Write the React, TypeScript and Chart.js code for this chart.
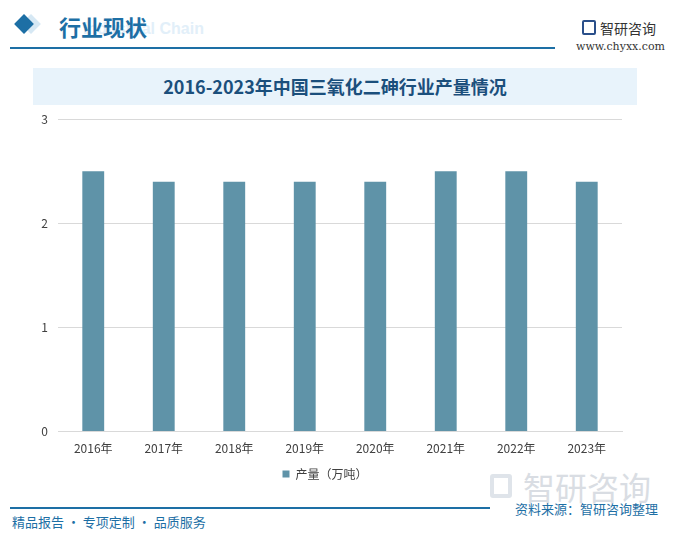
import React, { useEffect, useRef } from "react";
import { Chart, registerables } from "chart.js";

Chart.register(...registerables);

const categories = ["2016年", "2017年", "2018年", "2019年", "2020年", "2021年", "2022年", "2023年"];
const production = [2.5, 2.4, 2.4, 2.4, 2.4, 2.5, 2.5, 2.4];
const yTicks = [0, 1, 2, 3];
const seriesLabel = "产量（万吨）";
const chartTitle = "2016-2023年中国三氧化二砷行业产量情况";

const CJK = '"Noto Sans CJK SC", "Noto Sans", sans-serif';

export default function App() {
  const ref = useRef<HTMLCanvasElement | null>(null);

  useEffect(() => {
    if (!ref.current) return;
    const chart = new Chart(ref.current, {
      type: "bar",
      data: {
        labels: categories,
        datasets: [
          {
            label: seriesLabel,
            data: production,
            backgroundColor: "#5f93a8",
            barPercentage: 0.31,
            categoryPercentage: 1,
          },
        ],
      },
      options: {
        animation: false,
        responsive: false,
        layout: { padding: { left: 28, right: 53, top: 13, bottom: 6 } },
        scales: {
          x: {
            grid: { display: false },
            border: { color: "#d9d9d9" },
            ticks: { color: "#404040", font: { family: CJK, size: 12 }, padding: 2 },
          },
          y: {
            min: 0,
            max: 3,
            afterFit: (s: any) => { s.width = 30; },
            afterBuildTicks: (s: any) => { s.ticks = yTicks.map((v) => ({ value: v })); },
            grid: { color: "#d9d9d9", drawTicks: false },
            border: { display: false },
            ticks: { color: "#404040", font: { family: CJK, size: 12 }, padding: 10 },
          },
        },
        plugins: {
          legend: {
            position: "bottom",
            labels: {
              color: "#404040",
              font: { family: CJK, size: 12 },
              boxWidth: 7,
              boxHeight: 7,
              padding: 10,
            },
          },
          tooltip: { enabled: false },
        },
      },
    });
    return () => chart.destroy();
  }, []);

  return (
    <div style={{ position: "absolute", left: 0, top: 0, width: 675, height: 534, background: "#fff", overflow: "hidden", fontFamily: CJK }}>
      {/* header */}
      <div style={{ position: "absolute", left: 83, top: 20, fontSize: 16, fontWeight: 700, color: "#e2eff9", fontFamily: "Arial, sans-serif", whiteSpace: "nowrap" }}>Industrial Chain</div>
      <div style={{ position: "absolute", left: 24, top: 17, width: 14, height: 14, background: "#d6e8f4", transform: "rotate(45deg)" }} />
      <div style={{ position: "absolute", left: 17, top: 17, width: 14, height: 14, background: "#1d6fa5", transform: "rotate(45deg)" }} />
      <div style={{ position: "absolute", left: 59, top: 11, fontSize: 22, fontWeight: 700, color: "#1d6fa5", lineHeight: "30px" }}>行业现状</div>
      <div style={{ position: "absolute", left: 10, top: 47, width: 545, height: 2, background: "#1d6fa5" }} />
      <div style={{ position: "absolute", left: 582, top: 20, width: 14, height: 15, border: "2px solid #2a4f8a", borderRadius: 2, boxSizing: "border-box" }} />
      <div style={{ position: "absolute", left: 600, top: 18, fontSize: 14, color: "#333", lineHeight: "20px" }}>智研咨询</div>
      <div style={{ position: "absolute", left: 576, top: 40, fontSize: 11, color: "#333", fontFamily: '"DejaVu Serif", serif' }}>www.chyxx.com</div>

      {/* title band */}
      <div style={{ position: "absolute", left: 33, top: 68, width: 604, height: 37, background: "#e8f3fb" }} />
      <div style={{ position: "absolute", left: 33, top: 68, width: 604, height: 37, lineHeight: "37px", textAlign: "center", fontSize: 18, fontWeight: 700, color: "#1b4f7c" }}>{chartTitle}</div>

      {/* watermark logo */}
      <div style={{ position: "absolute", left: 490, top: 474, width: 22, height: 24, border: "4px solid #dfe4ea", borderRadius: 3, boxSizing: "border-box" }} />
      <div style={{ position: "absolute", left: 523, top: 466, fontSize: 32, color: "#d9dde3", lineHeight: "40px", whiteSpace: "nowrap" }}>智研咨询</div>

      <canvas ref={ref} width={675} height={394} style={{ position: "absolute", left: 0, top: 102, width: 675, height: 394 }} />

      {/* footer */}
      <div style={{ position: "absolute", left: 10, top: 507, width: 480, height: 1.5, background: "#1d6fa5" }} />
      <div style={{ position: "absolute", right: 17, top: 499, fontSize: 13, color: "#1d6fa5", lineHeight: "20px", whiteSpace: "nowrap" }}>资料来源：智研咨询整理</div>
      <div style={{ position: "absolute", left: 12, top: 512, fontSize: 13, color: "#1d6fa5", lineHeight: "20px", whiteSpace: "nowrap" }}>精品报告 · 专项定制 · 品质服务</div>
    </div>
  );
}
